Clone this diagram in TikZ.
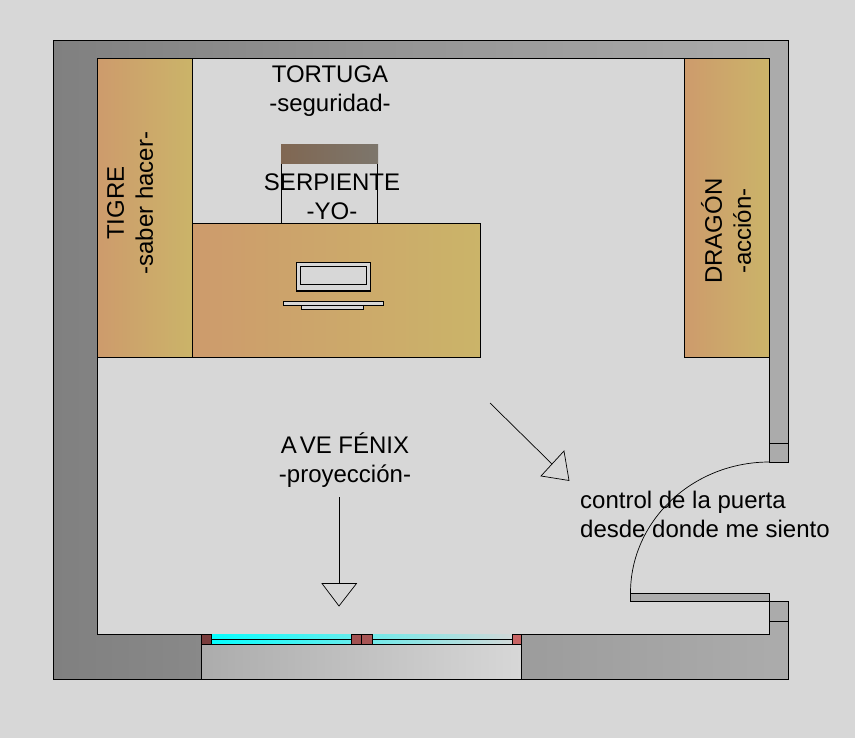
\documentclass[tikz,border=0pt]{standalone}
\usepackage{fontspec}
\setmainfont{Liberation Sans}
\usetikzlibrary{positioning}
\definecolor{bgGray}{RGB}{215,215,215}
\definecolor{wallLeft}{RGB}{128,128,128}
\definecolor{wallRight}{RGB}{172,172,172}
\definecolor{woodLeft}{RGB}{205,155,108}
\definecolor{woodRight}{RGB}{203,180,105}
\definecolor{topLeft}{RGB}{128,103,82}
\definecolor{topRight}{RGB}{125,118,108}
\tikzset{font=\fontsize{24}{29}\selectfont}
\tikzset{wood/.style={draw,line width=.8pt,left color=woodLeft,right color=woodRight}}
\tikzset{wall/.style={draw,line width=.9pt,left color=wallLeft,right color=wallRight}}
\tikzset{jamb/.style={draw,line width=.8pt,fill=wallRight}}
\tikzset{label/.style={inner sep=0pt,align=center}}
\begin{document}
\begin{tikzpicture}[x=1pt,y=-1pt]
  \useasboundingbox (0,0) rectangle (855,738);
  \fill[bgGray] (0,0) rectangle (855,738);
  % walls
  \path[wall] (53.5,40.5)--(788,40.5)--(788,462)--(769.5,462)--(769.5,58.5)--(97.5,58.5)--(97.5,634)--(769.5,634)--(769.5,601)--(788,601)--(788,679.5)--(53.5,679.5)--cycle;
  \draw[line width=.7pt] (769.5,443)--(788,443);
  \draw[line width=.7pt] (769.5,621)--(788,621);
  % window
  \draw[line width=.8pt,left color=wallRight,right color=bgGray] (201.5,644)--(521.5,644)--(521.5,679.5)--(201.5,679.5)--cycle;
  \fill[left color=cyan,right color=bgGray] (201.5,634) rectangle (521.5,644);
  \draw[line width=.8pt] (211,639.3)--(512,639.3);
  \draw[line width=.8pt] (201.5,644)--(521.5,644);
  \foreach \xa/\xb/\shade in {201.5/211/122,351.5/361.5/162,361.5/372/168,512.5/521.5/200}{
    \pgfmathtruncatemacro{\sg}{\shade/2}
    \definecolor{postRed}{RGB}{\shade,\sg,\sg}
    \draw[line width=.7pt,fill=postRed] (\xa,634) rectangle (\xb,644);
  }
  % door
  \draw[jamb] (630.5,593)--(769.5,593)--(769.5,601)--(630.5,601)--cycle;
  \draw[line width=.7pt] (630.5,593) .. controls (630.5,520.7) and (692.7,462) .. (769.5,462);
  % furniture
  \path[wood] (97.5,58.5) rectangle (192.5,357);
  \path[wood] (684.5,58.5) rectangle (769.5,357);
  \path[wood] (192.5,223.5) rectangle (480.5,357);
  \draw[line width=.7pt] (281.5,164)--(281.5,223.5);
  \draw[line width=.7pt] (377.5,164)--(377.5,223.5);
  \fill[left color=topLeft,right color=topRight] (281,144.5) rectangle (378,164);
  % computer
  \draw[line width=.7pt,fill=bgGray] (296.5,262.5) rectangle (370,291);
  \draw[line width=.7pt] (300.5,266.5) rectangle (366,284);
  \draw[line width=1.3pt] (296.5,290.5)--(370,290.5);
  \draw[line width=.7pt,fill=bgGray] (283.5,301.5) rectangle (383.5,305.5);
  \draw[line width=.7pt,fill=bgGray] (301.5,305.5) rectangle (363.5,309);
  % arrows
  \coordinate (doorFrom) at (490,403);
  \coordinate (doorTo) at (552,464);
  \coordinate (windowFrom) at (339,497);
  \coordinate (windowTo) at (339,583.5);
  \draw[line width=.7pt] (doorFrom)--(doorTo);
  \draw[line width=.7pt] (564,451)--(569,480.5)--(541,476)--cycle;
  \draw[line width=.7pt] (windowFrom)--(windowTo);
  \draw[line width=.7pt] (322,583.5)--(356.5,583.5)--(339,606)--cycle;
  % labels
  \node[label] (tortuga) at (330,91) {TORTUGA\\-seguridad-};
  \node[label] (serpiente) at (332,196.5) {SERPIENTE\\-YO-};
  \node[label,rotate=90] (tigre) at (130,203) {TIGRE\\-saber hacer-};
  \node[label,rotate=90] (dragon) at (726,231) {DRAGÓN\\-acción-};
  \node[label] (fenix) at (345,460) {A\kern3pt VE FÉNIX\\-proyección-};
  \node[label,align=left,anchor=west] (control) at (580,514) {control de la puerta\\desde donde me siento};
\end{tikzpicture}
\end{document}
